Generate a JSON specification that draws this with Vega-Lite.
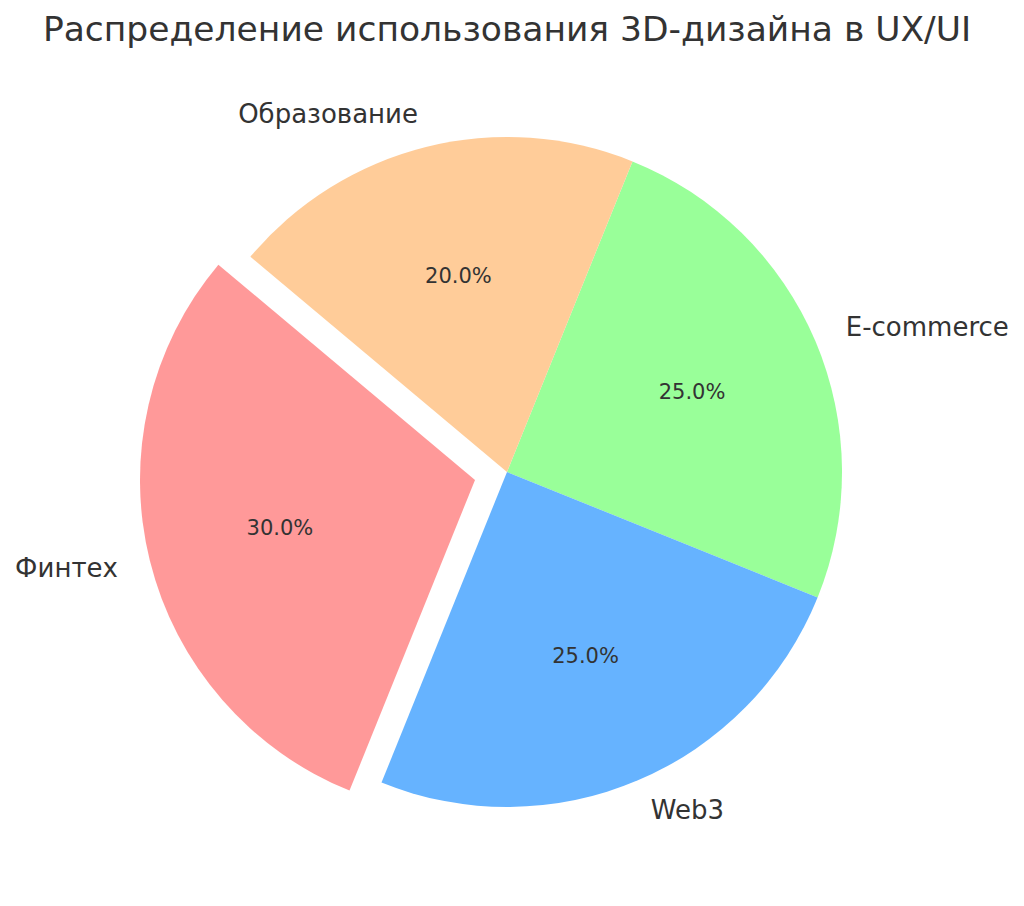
{
  "$schema": "https://vega.github.io/schema/vega-lite/v6.json",
  "autosize": {"type": "none"},
  "width": 1014,
  "height": 824,
  "padding": {"top": 60, "left": 0, "right": 0, "bottom": 0},
  "background": "white",
  "title": {
    "text": "Распределение использования 3D-дизайна в UX/UI",
    "font": "DejaVu Sans",
    "fontSize": 34.5,
    "fontWeight": "normal",
    "color": "#333333",
    "anchor": "middle",
    "frame": "group",
    "offset": 12
  },
  "config": {"view": {"stroke": null}},
  "data": {
    "values": [
      {"category": "E-commerce", "share": 0.25, "order": 1},
      {"category": "Web3", "share": 0.25, "order": 2},
      {"category": "Финтех", "share": 0.30, "order": 3},
      {"category": "Образование", "share": 0.20, "order": 4}
    ]
  },
  "encoding": {
    "theta": {"field": "share", "type": "quantitative", "stack": true, "scale": {"domain": [0, 1], "range": [0.38397, 6.66716]}},
    "order": {"field": "order", "type": "quantitative"}
  },
  "layer": [
    {
      "mark": {"type": "arc", "outerRadius": 335},
      "encoding": {
        "color": {"field": "category", "type": "nominal", "legend": null,
          "scale": {"domain": ["Финтех", "Web3", "E-commerce", "Образование"], "range": ["#ff9999", "#66b3ff", "#99ff99", "#ffcc99"]}},
        "opacity": {"condition": {"test": "datum.category === 'Финтех'", "value": 0}, "value": 1}
      }
    },
    {
      "mark": {"type": "arc", "outerRadius": 335, "xOffset": -32, "yOffset": 8},
      "encoding": {
        "color": {"field": "category", "type": "nominal", "legend": null},
        "opacity": {"condition": {"test": "datum.category === 'Финтех'", "value": 1}, "value": 0}
      }
    },
    {
      "mark": {"type": "text", "radius": 201, "font": "DejaVu Sans", "fontSize": 21, "color": "#333333", "align": "center", "baseline": "middle"},
      "encoding": {
        "text": {"field": "share", "type": "quantitative", "format": ".1%"},
        "opacity": {"condition": {"test": "datum.category === 'Финтех'", "value": 0}, "value": 1}
      }
    },
    {
      "mark": {"type": "text", "radius": 201, "font": "DejaVu Sans", "fontSize": 21, "color": "#333333", "align": "center", "baseline": "middle", "dx": -32, "dy": 8},
      "encoding": {
        "text": {"field": "share", "type": "quantitative", "format": ".1%"},
        "opacity": {"condition": {"test": "datum.category === 'Финтех'", "value": 1}, "value": 0}
      }
    },
    {
      "mark": {"type": "text", "radius": 368, "font": "DejaVu Sans", "fontSize": 26, "color": "#333333", "align": "right", "baseline": "middle"},
      "encoding": {
        "text": {"field": "category", "type": "nominal"},
        "opacity": {"condition": {"test": "datum.category === 'Образование'", "value": 1}, "value": 0}
      }
    },
    {
      "mark": {"type": "text", "radius": 368, "font": "DejaVu Sans", "fontSize": 26, "color": "#333333", "align": "right", "baseline": "middle", "dx": -32, "dy": 8},
      "encoding": {
        "text": {"field": "category", "type": "nominal"},
        "opacity": {"condition": {"test": "datum.category === 'Финтех'", "value": 1}, "value": 0}
      }
    },
    {
      "mark": {"type": "text", "radius": 368, "font": "DejaVu Sans", "fontSize": 26, "color": "#333333", "align": "left", "baseline": "middle"},
      "encoding": {
        "text": {"field": "category", "type": "nominal"},
        "opacity": {"condition": {"test": "datum.category === 'E-commerce' || datum.category === 'Web3'", "value": 1}, "value": 0}
      }
    }
  ]
}
